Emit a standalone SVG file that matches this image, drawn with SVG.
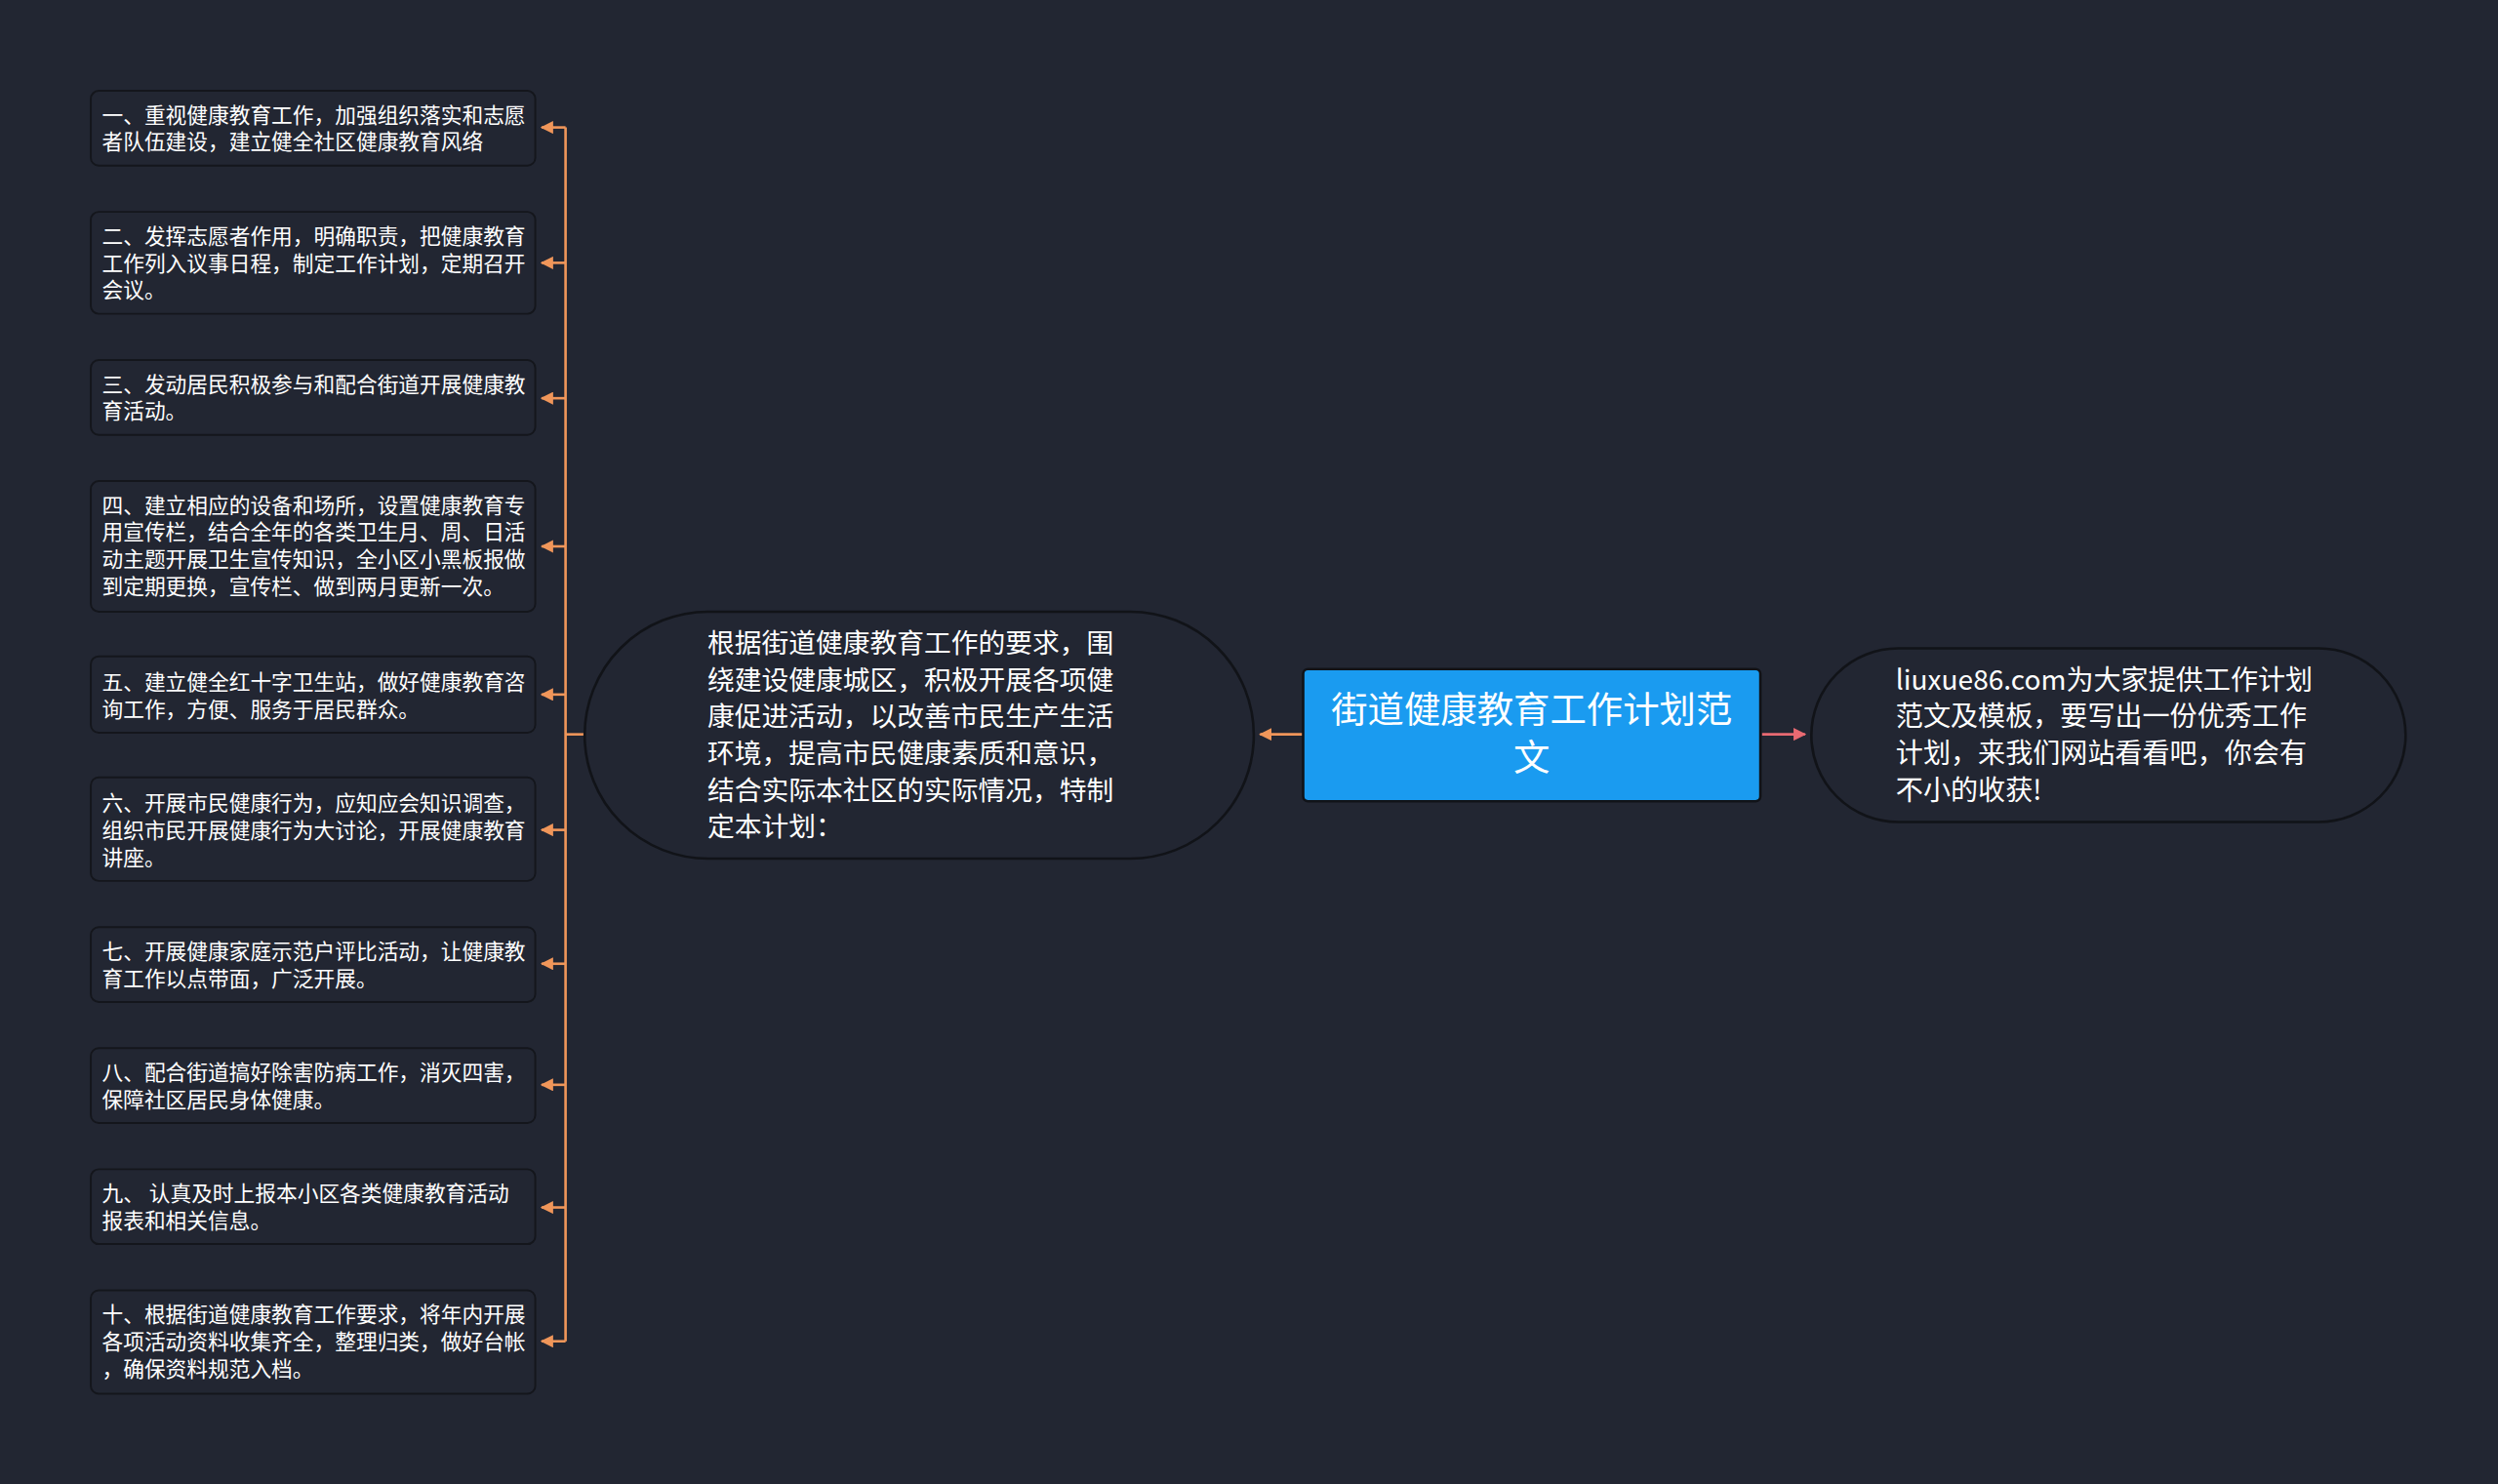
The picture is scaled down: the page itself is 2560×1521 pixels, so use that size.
<svg xmlns="http://www.w3.org/2000/svg" width="2560" height="1521" viewBox="0 0 2560 1521">
<defs>
<style>
.bg{fill:#222632}
.leaf{fill:#222632;stroke:#14161c;stroke-width:1.2}
.lt{font-family:"Noto Sans CJK SC","Noto Sans",sans-serif;font-size:13.3px;fill:#ffffff}
.mt{font-family:"Noto Sans CJK SC","Noto Sans",sans-serif;font-size:17px;fill:#ffffff}
.mr{font-family:"Noto Sans CJK SC","Noto Sans",sans-serif;font-size:17.2px;fill:#ffffff}
.rt{font-family:"Noto Sans CJK SC","Noto Sans",sans-serif;font-size:22.9px;fill:#ffffff}
.oc{stroke:#f0965a;stroke-width:1.6;fill:none}
.pc{stroke:#e86a72;stroke-width:1.6;fill:none}
</style>
<marker id="ao" viewBox="0 0 10 10" refX="9" refY="5" markerWidth="5" markerHeight="5" orient="auto"><path d="M0,0L10,5L0,10z" fill="#f0965a"/></marker>
<marker id="ap" viewBox="0 0 10 10" refX="9" refY="5" markerWidth="5" markerHeight="5" orient="auto"><path d="M0,0L10,5L0,10z" fill="#e86a72"/></marker>
</defs>
<rect class="bg" width="2560" height="1521"/>
<g transform="scale(1.63265)">
<g id="connectors">
<path class="oc" d="M367,461H355"/>
<path class="oc" d="M355,80V842"/>
<path class="oc" d="M355,80H340" marker-end="url(#ao)"/>
<path class="oc" d="M355,165H340" marker-end="url(#ao)"/>
<path class="oc" d="M355,250H340" marker-end="url(#ao)"/>
<path class="oc" d="M355,343H340" marker-end="url(#ao)"/>
<path class="oc" d="M355,436H340" marker-end="url(#ao)"/>
<path class="oc" d="M355,521H340" marker-end="url(#ao)"/>
<path class="oc" d="M355,605H340" marker-end="url(#ao)"/>
<path class="oc" d="M355,681H340" marker-end="url(#ao)"/>
<path class="oc" d="M355,758H340" marker-end="url(#ao)"/>
<path class="oc" d="M355,842H340" marker-end="url(#ao)"/>
<path class="oc" d="M818,461H791" marker-end="url(#ao)"/>
<path class="pc" d="M1106,461H1133" marker-end="url(#ap)"/>
</g>
<g id="n1"><rect class="leaf" x="57" y="57" width="279" height="47" rx="5"/><text class="lt" x="64" y="77">一、重视健康教育工作，加强组织落实和志愿</text><text class="lt" x="64" y="94">者队伍建设，建立健全社区健康教育风络</text></g>
<g id="n2"><rect class="leaf" x="57" y="133" width="279" height="64" rx="5"/><text class="lt" x="64" y="153">二、发挥志愿者作用，明确职责，把健康教育</text><text class="lt" x="64" y="170">工作列入议事日程，制定工作计划，定期召开</text><text class="lt" x="64" y="187">会议。</text></g>
<g id="n3"><rect class="leaf" x="57" y="226" width="279" height="47" rx="5"/><text class="lt" x="64" y="246">三、发动居民积极参与和配合街道开展健康教</text><text class="lt" x="64" y="263">育活动。</text></g>
<g id="n4"><rect class="leaf" x="57" y="302" width="279" height="82" rx="5"/><text class="lt" x="64" y="322">四、建立相应的设备和场所，设置健康教育专</text><text class="lt" x="64" y="339">用宣传栏，结合全年的各类卫生月、周、日活</text><text class="lt" x="64" y="356">动主题开展卫生宣传知识，全小区小黑板报做</text><text class="lt" x="64" y="373">到定期更换，宣传栏、做到两月更新一次。</text></g>
<g id="n5"><rect class="leaf" x="57" y="412" width="279" height="48" rx="5"/><text class="lt" x="64" y="433">五、建立健全红十字卫生站，做好健康教育咨</text><text class="lt" x="64" y="450">询工作，方便、服务于居民群众。</text></g>
<g id="n6"><rect class="leaf" x="57" y="488" width="279" height="65" rx="5"/><text class="lt" x="64" y="509">六、开展市民健康行为，应知应会知识调查，</text><text class="lt" x="64" y="526">组织市民开展健康行为大讨论，开展健康教育</text><text class="lt" x="64" y="543">讲座。</text></g>
<g id="n7"><rect class="leaf" x="57" y="582" width="279" height="47" rx="5"/><text class="lt" x="64" y="602">七、开展健康家庭示范户评比活动，让健康教</text><text class="lt" x="64" y="619">育工作以点带面，广泛开展。</text></g>
<g id="n8"><rect class="leaf" x="57" y="658" width="279" height="47" rx="5"/><text class="lt" x="64" y="678">八、配合街道搞好除害防病工作，消灭四害，</text><text class="lt" x="64" y="695">保障社区居民身体健康。</text></g>
<g id="n9"><rect class="leaf" x="57" y="734" width="279" height="47" rx="5"/><text class="lt" x="64" y="754">九、 认真及时上报本小区各类健康教育活动</text><text class="lt" x="64" y="771">报表和相关信息。</text></g>
<g id="n10"><rect class="leaf" x="57" y="810" width="279" height="65" rx="5"/><text class="lt" x="64" y="830">十、根据街道健康教育工作要求，将年内开展</text><text class="lt" x="64" y="847">各项活动资料收集齐全，整理归类，做好台帐</text><text class="lt" x="64" y="864">，确保资料规范入档。</text></g>
<g id="center"><rect x="367" y="384" width="420" height="155" rx="77.5" fill="#222632" stroke="#111318" stroke-width="1.6"/>
<text class="mt" x="444" y="410">根据街道健康教育工作的要求，围</text><text class="mt" x="444" y="433">绕建设健康城区，积极开展各项健</text><text class="mt" x="444" y="456">康促进活动，以改善市民生产生活</text><text class="mt" x="444" y="479">环境，提高市民健康素质和意识，</text><text class="mt" x="444" y="502">结合实际本社区的实际情况，特制</text><text class="mt" x="444" y="525">定本计划：</text></g>
<g id="root"><rect x="818" y="420" width="287" height="83" rx="3" fill="#1a9bf0" stroke="#111318" stroke-width="1.6"/>
<text class="rt" x="961.5" y="454" text-anchor="middle">街道健康教育工作计划范</text><text class="rt" x="961.5" y="484" text-anchor="middle">文</text></g>
<g id="right"><rect x="1137" y="407" width="373" height="109" rx="54.5" fill="#222632" stroke="#111318" stroke-width="1.6"/>
<text class="mr" x="1190" y="433">liuxue86.com为大家提供工作计划</text><text class="mr" x="1190" y="456">范文及模板，要写出一份优秀工作</text><text class="mr" x="1190" y="479">计划，来我们网站看看吧，你会有</text><text class="mr" x="1190" y="502">不小的收获!</text></g>
</g>
</svg>
